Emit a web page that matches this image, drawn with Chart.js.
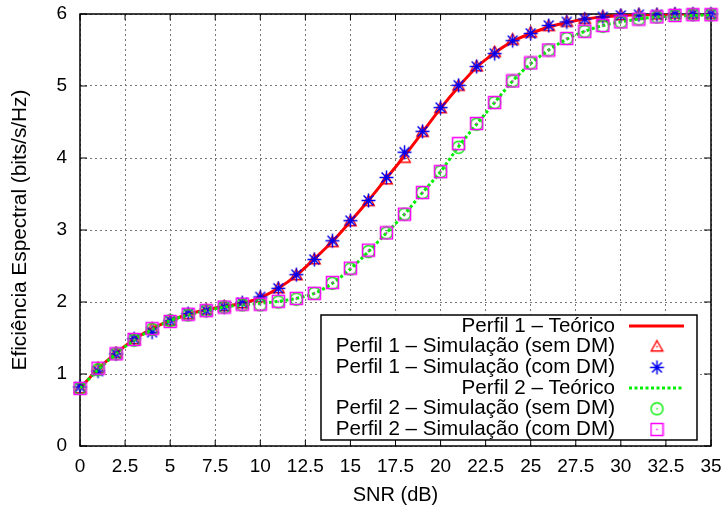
<!DOCTYPE html>
<html>
<head>
<meta charset="utf-8">
<script src="https://cdn.jsdelivr.net/npm/chart.js@4/dist/chart.umd.min.js"></script>
<style>
  html, body { margin: 0; padding: 0; background: #fff; }
  #c { display: block; }
</style>
</head>
<body>
<canvas id="c" width="724" height="511"></canvas>
<script>
// SNR grid (dB)
const snr = [0,1,2,3,4,5,6,7,8,9,10,11,12,13,14,15,16,17,18,19,20,21,22,23,24,25,26,27,28,29,30,31,32,33,34,35];

// Perfil 1
const perfil1Teorico = [0.80,1.07,1.29,1.48,1.63,1.74,1.83,1.89,1.94,1.98,2.06,2.19,2.37,2.60,2.84,3.12,3.41,3.72,4.03,4.36,4.69,4.99,5.26,5.46,5.62,5.73,5.82,5.88,5.93,5.96,5.98,5.99,5.99,6.00,6.00,6.00];
const perfil1SemDM   = [0.80,1.08,1.29,1.48,1.63,1.74,1.83,1.89,1.94,1.98,2.06,2.19,2.37,2.59,2.83,3.12,3.40,3.70,4.00,4.36,4.69,5.00,5.27,5.47,5.64,5.74,5.83,5.89,5.93,5.96,5.98,5.99,5.99,6.00,6.00,6.00];
const perfil1ComDM   = [0.82,1.04,1.28,1.49,1.58,1.74,1.84,1.88,1.93,1.99,2.07,2.19,2.38,2.59,2.85,3.13,3.41,3.73,4.08,4.37,4.70,5.01,5.27,5.45,5.63,5.73,5.84,5.89,5.93,5.96,5.98,5.99,5.99,6.00,6.00,6.00];

// Perfil 2
const perfil2Teorico = [0.80,1.06,1.28,1.47,1.62,1.74,1.82,1.88,1.93,1.96,1.98,2.01,2.05,2.12,2.26,2.46,2.70,2.96,3.22,3.52,3.81,4.16,4.47,4.77,5.07,5.31,5.50,5.65,5.76,5.84,5.89,5.93,5.96,5.97,5.98,5.99];
const perfil2SemDM   = [0.80,1.06,1.28,1.47,1.62,1.74,1.82,1.88,1.93,1.96,1.96,2.00,2.04,2.12,2.26,2.46,2.70,2.96,3.22,3.52,3.81,4.15,4.47,4.77,5.07,5.32,5.50,5.66,5.76,5.83,5.89,5.93,5.96,5.98,5.99,5.99];
const perfil2ComDM   = [0.80,1.08,1.28,1.48,1.63,1.73,1.83,1.88,1.93,1.97,1.97,2.01,2.05,2.12,2.27,2.47,2.72,2.96,3.22,3.52,3.81,4.20,4.48,4.77,5.07,5.32,5.50,5.66,5.76,5.84,5.89,5.93,5.96,5.98,5.99,5.99];

// axis ticks
const xTicks = [0,2.5,5,7.5,10,12.5,15,17.5,20,22.5,25,27.5,30,32.5,35];
const yTicks = [0,1,2,3,4,5,6];

const FONT = '"Liberation Sans", Arial, Helvetica, sans-serif';
Chart.defaults.font.family = FONT;
Chart.defaults.color = '#000';

const RED = '#ff0000', BLUE = '#0000ee', GREEN = '#00ee00', MAGENTA = '#ff00ff';

function makeMarker(size, draw) {
  const cv = document.createElement('canvas');
  cv.width = size; cv.height = size;
  const g = cv.getContext('2d');
  draw(g, size / 2);
  return cv;
}
function centerDot(g, c, color) {
  g.fillStyle = color;
  g.fillRect(c - 0.75, c - 0.75, 1.5, 1.5);
}
const triangleMark = makeMarker(15, (g, c) => {
  g.strokeStyle = RED; g.lineWidth = 1.4;
  g.beginPath();
  g.moveTo(c, c - 6); g.lineTo(c + 5.8, c + 4.2); g.lineTo(c - 5.8, c + 4.2); g.closePath();
  g.stroke();
  centerDot(g, c, RED);
});
const starMark = makeMarker(17, (g, c) => {
  g.strokeStyle = BLUE; g.lineWidth = 1.5;
  const r = 7, d = r * Math.SQRT1_2;
  g.beginPath();
  g.moveTo(c - r, c); g.lineTo(c + r, c);
  g.moveTo(c, c - r); g.lineTo(c, c + r);
  g.moveTo(c - d, c - d); g.lineTo(c + d, c + d);
  g.moveTo(c - d, c + d); g.lineTo(c + d, c - d);
  g.stroke();
});
const circleMark = makeMarker(15, (g, c) => {
  g.strokeStyle = GREEN; g.lineWidth = 1.4;
  g.beginPath(); g.arc(c, c, 6, 0, Math.PI * 2); g.stroke();
  centerDot(g, c, GREEN);
});
const squareMark = makeMarker(15, (g, c) => {
  g.strokeStyle = MAGENTA; g.lineWidth = 1.5;
  g.strokeRect(c - 6, c - 6, 12, 12);
  centerDot(g, c, MAGENTA);
});

const pts = ys => snr.map((x, i) => ({ x, y: ys[i] }));

// frame and inward tick marks (gnuplot style border)
const framePlugin = {
  id: 'frame',
  beforeDatasetsDraw(chart) {
    const { ctx, chartArea: a, scales: { x, y } } = chart;
    ctx.save();
    ctx.strokeStyle = '#000';
    ctx.lineWidth = 1;
    ctx.beginPath();
    xTicks.forEach(v => {
      const px = x.getPixelForValue(v);
      ctx.moveTo(px, a.bottom); ctx.lineTo(px, a.bottom - 6);
      ctx.moveTo(px, a.top); ctx.lineTo(px, a.top + 6);
    });
    yTicks.forEach(v => {
      const py = y.getPixelForValue(v);
      ctx.moveTo(a.left, py); ctx.lineTo(a.left + 7, py);
      ctx.moveTo(a.right, py); ctx.lineTo(a.right - 7, py);
    });
    ctx.stroke();
    ctx.lineWidth = 1.5;
    ctx.strokeRect(a.left, a.top, a.right - a.left, a.bottom - a.top);
    ctx.restore();
  }
};

// boxed key in the lower right corner, text right-aligned with sample to its right
const keyPlugin = {
  id: 'keyBox',
  afterDraw(chart) {
    const { ctx, chartArea: a } = chart;
    const right = a.right - 14, bottom = a.bottom - 6;
    const width = 376, rowH = 20.7, height = 125;
    const left = right - width, top = bottom - height;
    ctx.save();
    ctx.fillStyle = '#fff';
    ctx.fillRect(left, top, width, height);
    ctx.strokeStyle = '#000';
    ctx.lineWidth = 1.5;
    ctx.strokeRect(left, top, width, height);
    ctx.font = '20.6px ' + FONT;
    ctx.textAlign = 'right';
    ctx.textBaseline = 'middle';
    const textRight = right - 82, symX = right - 40;
    chart.data.datasets.forEach((ds, i) => {
      const yy = top + 11 + i * rowH;
      ctx.fillStyle = '#000';
      ctx.fillText(ds.label, textRight, yy);
      if (ds.showLine !== false) {
        ctx.save();
        ctx.strokeStyle = ds.borderColor;
        ctx.lineWidth = ds.borderWidth;
        ctx.setLineDash(ds.borderDash || []);
        ctx.beginPath();
        ctx.moveTo(right - 68, yy); ctx.lineTo(right - 13, yy);
        ctx.stroke();
        ctx.restore();
      } else {
        const m = ds.pointStyle;
        ctx.drawImage(m, symX - m.width / 2, yy - m.height / 2);
      }
    });
    ctx.restore();
  }
};

new Chart(document.getElementById('c'), {
  type: 'line',
  data: {
    datasets: [
      { label: 'Perfil 1 – Teórico', data: pts(perfil1Teorico), borderColor: RED, borderWidth: 3,
        pointRadius: 0, cubicInterpolationMode: 'monotone', order: 6 },
      { label: 'Perfil 1 – Simulação (sem DM)', data: pts(perfil1SemDM), showLine: false,
        pointStyle: triangleMark, pointRadius: 7, order: 5, clip: false },
      { label: 'Perfil 1 – Simulação (com DM)', data: pts(perfil1ComDM), showLine: false,
        pointStyle: starMark, pointRadius: 8, order: 4, clip: false },
      { label: 'Perfil 2 – Teórico', data: pts(perfil2Teorico), borderColor: GREEN, borderWidth: 3,
        borderDash: [3, 2.5], pointRadius: 0, cubicInterpolationMode: 'monotone', order: 3 },
      { label: 'Perfil 2 – Simulação (sem DM)', data: pts(perfil2SemDM), showLine: false,
        pointStyle: circleMark, pointRadius: 7, order: 2, clip: false },
      { label: 'Perfil 2 – Simulação (com DM)', data: pts(perfil2ComDM), showLine: false,
        pointStyle: squareMark, pointRadius: 7, order: 1, clip: false }
    ]
  },
  options: {
    responsive: false,
    animation: false,
    devicePixelRatio: 1,
    layout: { padding: { top: 14, right: 13, left: 0, bottom: 0 } },
    plugins: { legend: { display: false }, tooltip: { enabled: false } },
    elements: { point: { hoverRadius: 0 } },
    scales: {
      x: {
        type: 'linear', min: 0, max: 35,
        afterBuildTicks: s => { s.ticks = xTicks.map(v => ({ value: v })); },
        afterFit: s => { s.height = 65; s.paddingLeft = 0; s.paddingRight = 0; },
        ticks: { font: { size: 19 }, padding: 9, maxRotation: 0, autoSkip: false, color: '#000' },
        grid: { color: '#777', lineWidth: 1, drawTicks: false },
        border: { display: false, dash: [2, 3] },
        title: { display: true, text: 'SNR (dB)', font: { size: 20 }, color: '#000',
                 padding: { top: 0, bottom: 4 } }
      },
      y: {
        type: 'linear', min: 0, max: 6,
        afterBuildTicks: s => { s.ticks = yTicks.map(v => ({ value: v })); },
        afterFit: s => { s.width = 80; s.paddingTop = 0; s.paddingBottom = 0; },
        ticks: { font: { size: 19 }, padding: 13, color: '#000' },
        grid: { color: '#777', lineWidth: 1, drawTicks: false },
        border: { display: false, dash: [2, 3] },
        title: { display: true, text: 'Eficiência Espectral (bits/s/Hz)', font: { size: 20.8 }, color: '#000',
                 padding: { top: 8, bottom: 0 } }
      }
    }
  },
  plugins: [framePlugin, keyPlugin]
});
</script>
</body>
</html>
